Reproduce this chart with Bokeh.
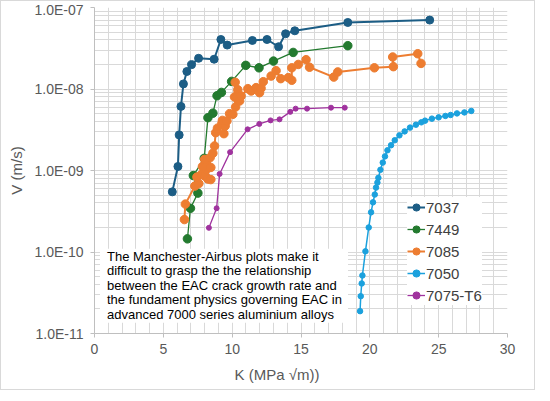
import math
from bokeh.plotting import figure
from bokeh.models import (Range1d, FixedTicker, CustomJSTickFormatter, Label,
                          BoxAnnotation, Legend, Title)
from bokeh.embed import file_html
from bokeh.resources import INLINE

# ---------------- data ----------------
k_7037 = [5.65, 6.06, 6.15, 6.28, 6.46, 6.71, 7.05, 7.56, 8.69, 9.18, 9.64,
          11.47, 12.53, 13.37, 13.88, 14.55, 18.40, 24.35]
v_7037 = [5.47e-10, 1.12e-9, 2.73e-9, 6.12e-9, 1.155e-8, 1.64e-8, 1.99e-8,
          2.38e-8, 2.32e-8, 4.05e-8, 3.46e-8, 3.94e-8, 4.05e-8, 3.30e-8,
          4.76e-8, 5.18e-8, 6.55e-8, 7.01e-8]

k_7449 = [6.75, 6.97, 7.51, 7.18, 7.97, 8.24, 8.60, 8.90, 9.22, 9.96, 10.99,
          11.95, 13.00, 14.43, 18.40]
v_7449 = [1.45e-10, 3.44e-10, 5.28e-10, 8.66e-10, 1.41e-9, 4.45e-9, 5.05e-9,
          8.27e-9, 9.08e-9, 1.24e-8, 1.95e-8, 1.82e-8, 2.20e-8, 2.81e-8,
          3.40e-8]

k_7085 = [6.53, 6.60, 7.29, 7.58, 7.44, 7.76, 8.02, 8.24, 8.45, 8.13, 7.84,
          8.13, 8.45, 8.00, 8.40, 8.60, 8.72, 8.80, 8.93, 9.25, 9.40, 9.49,
          9.29, 9.62, 9.81, 10.05, 10.25, 10.17, 10.22, 10.41, 10.34, 10.54,
          10.65, 11.14, 11.38, 11.74, 11.99, 12.10, 12.26, 12.83, 13.19,
          13.53, 14.08, 14.33, 14.33, 14.80, 15.37, 15.62, 17.38, 17.67,
          20.33, 21.71, 21.66, 23.48, 23.72]
v_7085 = [2.50e-10, 3.87e-10, 6.44e-10, 6.91e-10, 8.30e-10, 8.91e-10, 8.54e-10,
          7.85e-10, 7.74e-10, 1.03e-9, 1.12e-9, 1.23e-9, 1.09e-9, 1.37e-9,
          1.44e-9, 1.63e-9, 2.00e-9, 2.91e-9, 3.31e-9, 3.76e-9, 2.83e-9,
          3.52e-9, 4.12e-9, 4.06e-9, 4.98e-9, 4.89e-9, 6.02e-9, 7.98e-9,
          1.21e-8, 9.80e-9, 7.82e-9, 7.13e-9, 8.21e-9, 1.01e-8, 9.45e-9,
          1.04e-8, 9.01e-9, 1.02e-8, 1.23e-8, 1.44e-8, 1.68e-8, 1.34e-8,
          1.38e-8, 1.28e-8, 1.82e-8, 2.00e-8, 2.29e-8, 1.85e-8, 1.40e-8,
          1.62e-8, 1.82e-8, 1.88e-8, 2.47e-8, 2.71e-8, 2.06e-8]

k_7050 = [19.29, 19.34, 19.41, 19.46, 19.68, 19.92, 20.09, 20.23, 20.36, 20.45,
          20.55, 20.62, 20.77, 20.94, 21.10, 21.28, 21.54, 21.81, 22.15, 22.53,
          22.92, 23.35, 23.74, 24.01, 24.51, 25.00, 25.49, 25.87, 26.33, 26.87,
          27.37]
v_7050 = [1.88e-11, 2.87e-11, 4.11e-11, 5.15e-11, 1.02e-10, 2.00e-10, 3.07e-10,
          4.07e-10, 5.07e-10, 6.17e-10, 7.11e-10, 8.12e-10, 1.02e-9, 1.25e-9,
          1.49e-9, 1.77e-9, 2.04e-9, 2.35e-9, 2.70e-9, 3.02e-9, 3.36e-9,
          3.65e-9, 3.90e-9, 4.09e-9, 4.33e-9, 4.49e-9, 4.67e-9, 4.80e-9,
          5.02e-9, 5.16e-9, 5.38e-9]

k_7075 = [8.31, 8.87, 9.09, 9.85, 11.12, 11.97, 12.79, 13.44, 14.22, 14.61,
          15.44, 17.18, 18.18]
v_7075 = [1.98e-10, 3.44e-10, 9.08e-10, 1.68e-9, 3.20e-9, 3.73e-9, 4.12e-9,
          4.24e-9, 5.24e-9, 5.74e-9, 5.74e-9, 5.90e-9, 5.90e-9]

x_major_ticks = [0, 5, 10, 15, 20, 25, 30]
y_major_ticks = [1e-11, 1e-10, 1e-9, 1e-8, 1e-7]

note_lines = [
    "The Manchester-Airbus plots make it",
    "difficult to grasp the the relationship",
    "between the EAC crack growth rate and",
    "the fundament physics governing EAC in",
    "advanced 7000 series aluminium alloys",
]

x_title = "K (MPa √m))"
y_title = "V (m/s)"

# ---------------- figure ----------------
FONT = "Liberation Sans"
GRID = "#d9d9d9"
TXT = "#595959"

X0, X1 = 0, 30
Y0, Y1 = 1e-11, 1e-7
FW, FH = 413, 326
BL, BR, BT, BB = 93, 27, 6, 55

p = figure(frame_width=FW, frame_height=FH, y_axis_type="log",
           x_range=Range1d(X0, X1), y_range=Range1d(Y0, Y1),
           output_backend="svg", toolbar_location=None,
           min_border_left=BL, min_border_right=BR, min_border_top=BT,
           min_border_bottom=BB,
           styles={"border": "1px solid #d9d9d9"})
p.outline_line_color = None
p.background_fill_color = "white"
p.border_fill_color = "white"

# pixel helpers for annotations (relative to frame top-left)
def sx(px):
    return X0 + (X1 - X0) * px / FW

def sy(py):
    return 10 ** (math.log10(Y1) - (math.log10(Y1) - math.log10(Y0)) * py / FH)

# grids
p.xgrid.ticker = FixedTicker(ticks=list(range(0, 31)))
p.xgrid.grid_line_color = GRID
p.ygrid.ticker = FixedTicker(
    ticks=y_major_ticks,
    minor_ticks=[m * 10.0 ** e for e in range(-11, -7) for m in range(2, 10)])
p.ygrid.grid_line_color = GRID
p.ygrid.minor_grid_line_color = GRID

# axes
p.xaxis.ticker = FixedTicker(ticks=x_major_ticks)
p.yaxis.ticker = FixedTicker(ticks=y_major_ticks)
p.yaxis.formatter = CustomJSTickFormatter(code="""
const e = Math.round(Math.log10(tick));
const m = tick / Math.pow(10, e);
const a = Math.abs(e);
return m.toFixed(1) + "E" + (e < 0 ? "-" : "+") + (a < 10 ? "0" : "") + a;
""")
for ax in (p.xaxis, p.yaxis):
    ax.axis_line_color = "#bfbfbf"
    ax.major_tick_line_color = "#bfbfbf"
    ax.major_tick_out = 4
    ax.major_tick_in = 0
    ax.minor_tick_line_color = None
    ax.major_label_text_font = FONT
    ax.major_label_text_font_size = "14px"
    ax.major_label_text_color = TXT
p.yaxis.major_label_standoff = 7
p.xaxis.major_label_standoff = 6
p.yaxis.axis_label = y_title
p.yaxis.axis_label_text_font = FONT
p.yaxis.axis_label_text_font_size = "15px"
p.yaxis.axis_label_text_font_style = "normal"
p.yaxis.axis_label_text_color = TXT
p.yaxis.axis_label_standoff = 6

# x-axis title as a left-aligned title below the axis
xt = Title(text=x_title, align="left", offset=140, standoff=14,
           text_font=FONT, text_font_size="15px", text_font_style="normal",
           text_color=TXT)
p.add_layout(xt, "below")

# white note box (under glyphs, over grid)
box = BoxAnnotation(left=sx(5.5), right=sx(253.5), top=sy(241.3), bottom=sy(315.3),
                    fill_color="white", fill_alpha=1.0, line_color=None,
                    level="underlay")
p.add_layout(box)

# series
series = [
    ("7037", k_7037, v_7037, "#1c5d85", 2.0, 8),
    ("7449", k_7449, v_7449, "#237a2f", 1.3, 8.5),
    ("7085", k_7085, v_7085, "#ed7d31", 2.0, 8.5),
    ("7050", k_7050, v_7050, "#1ba1dd", 1.5, 5.5),
    ("7075-T6", k_7075, v_7075, "#a0339e", 1.3, 5),
]
items = []
for name, kx, vy, col, lw, ms in series:
    rl = p.line(kx, vy, line_color=col, line_width=lw)
    rs = p.scatter(kx, vy, marker="circle", size=ms, fill_color=col,
                   line_color=col)
    items.append((name, [rl, rs]))

legend = Legend(items=items, location=(313, 28))
legend.label_text_font = FONT
legend.label_text_font_size = "15px"
legend.label_text_color = "#404040"
legend.glyph_width = 18
legend.glyph_height = 20
legend.label_height = 20
legend.label_standoff = 1
legend.spacing = 2
legend.padding = 3
legend.margin = 0
legend.border_line_color = None
legend.background_fill_color = "white"
legend.background_fill_alpha = 1.0
p.add_layout(legend, "center")

# note text
for i, line in enumerate(note_lines):
    p.add_layout(Label(x=sx(12.5), y=sy(248.6 + 14.6 * i), text=line,
                       text_font=FONT, text_font_size="13px",
                       text_color="black", text_baseline="middle",
                       text_align="left"))

open("out.html", "w").write(file_html(p, INLINE))
